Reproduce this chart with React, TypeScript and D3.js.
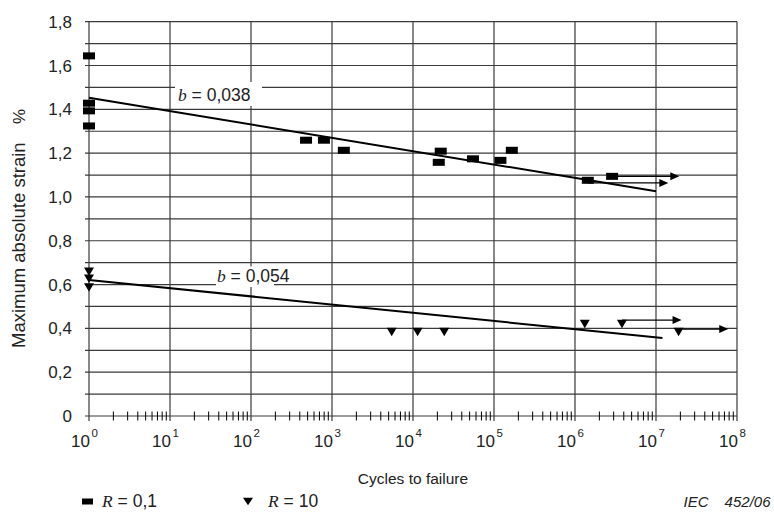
import React from "react";
import * as d3 from "d3";

// R = 0,1 (rectangles)
const r01Cycles = [1, 1, 1, 1, 478, 795, 1400, 20800, 22000, 55000, 120000, 166000, 1.44e6, 2.87e6];
const r01Strain = [1.644, 1.428, 1.393, 1.324, 1.259, 1.259, 1.213, 1.158, 1.209, 1.174, 1.167, 1.213, 1.076, 1.094];
// R = 10 (triangles)
const r10Cycles = [1, 1, 1, 5460, 11400, 24300, 1.32e6, 3.8e6, 1.9e7];
const r10Strain = [0.659, 0.626, 0.587, 0.384, 0.384, 0.384, 0.42, 0.42, 0.384];

// run-outs (arrows)
const r01RunStart = [1.44e6, 2.87e6];
const r01RunEnd = [1.42e7, 1.94e7];
const r01RunStrain = [1.064, 1.094];
const r10RunStart = [3.8e6, 1.9e7];
const r10RunEnd = [2.07e7, 7.8e7];
const r10RunStrain = [0.438, 0.397];

// fitted lines
const r01FitCycles = [1, 1e7];
const r01FitStrain = [1.453, 1.026];
const r10FitCycles = [1, 1.2e7];
const r10FitStrain = [0.621, 0.356];

const yTicks = [0, 0.2, 0.4, 0.6, 0.8, 1.0, 1.2, 1.4, 1.6, 1.8];
const yGrid = d3.range(0, 19).map((i) => i / 10);
const decades = [0, 1, 2, 3, 4, 5, 6, 7, 8];

const fmt = (v: number) => (v === 0 ? "0" : v.toFixed(1).replace(".", ","));

export default function App() {
  const x = d3.scaleLog().domain([1, 1e8]).range([89, 737]);
  const y = d3.scaleLinear().domain([0, 1.8]).range([416, 21.7]);
  const gridColor = "#3a3a3a";
  const sans = "'Liberation Sans', Arial, sans-serif";
  const serif = "'Liberation Serif', 'Times New Roman', serif";
  const line = d3
    .line<[number, number]>()
    .x((d) => x(d[0]))
    .y((d) => y(d[1]));

  const minor: number[] = [];
  for (let d = 0; d < 8; d++) for (let k = 2; k <= 9; k++) minor.push(k * Math.pow(10, d));

  const tri = (cx: number, cy: number, w = 10, h = 8.5) =>
    `M${cx - w / 2},${cy - h / 2}L${cx + w / 2},${cy - h / 2}L${cx},${cy + h / 2}Z`;

  const arrow = (x1: number, x2: number, yy: number, key: string) => (
    <g key={key}>
      <line x1={x1} x2={x2 - 7} y1={yy} y2={yy} stroke="#000" strokeWidth={1.2} />
      <path d={`M${x2},${yy}L${x2 - 9},${yy - 4}L${x2 - 9},${yy + 4}Z`} fill="#000" />
    </g>
  );

  return (
    <svg
      width={774}
      height={519}
      style={{ position: "absolute", left: 0, top: 0, background: "#fff" }}
      fontFamily={sans}
    >
      <rect x={0} y={0} width={774} height={519} fill="#fff" />
      {/* horizontal grid */}
      {yGrid.map((v) => (
        <line key={"h" + v} x1={85} x2={x(1e8)} y1={y(v)} y2={y(v)} stroke={gridColor} strokeWidth={1.2} />
      ))}
      {/* vertical grid */}
      {decades.map((d) => (
        <line
          key={"v" + d}
          x1={x(Math.pow(10, d))}
          x2={x(Math.pow(10, d))}
          y1={y(1.8)}
          y2={421}
          stroke={gridColor}
          strokeWidth={1.2}
        />
      ))}
      {/* minor ticks */}
      {minor.map((m) => (
        <line key={"m" + m} x1={x(m)} x2={x(m)} y1={411.5} y2={420.5} stroke="#000" strokeWidth={1} />
      ))}
      {/* y tick labels */}
      {yTicks.map((v) => (
        <text key={"yt" + v} x={72} y={y(v)} dy="0.36em" textAnchor="end" fontSize={17} fill="#222">
          {fmt(v)}
        </text>
      ))}
      {/* x tick labels */}
      {decades.map((d) => (
        <g key={"xt" + d} fill="#222">
          <text x={x(Math.pow(10, d)) + 1} y={447} textAnchor="end" fontSize={17}>
            10
          </text>
          <text x={x(Math.pow(10, d)) + 2.5} y={436.5} fontSize={11.5}>
            {d}
          </text>
        </g>
      ))}
      {/* axis titles */}
      <text x={413} y={484} textAnchor="middle" fontSize={15.5} fill="#222">
        Cycles to failure
      </text>
      <text transform="translate(25,348) rotate(-90)" fontSize={18.5} fill="#222">
        Maximum absolute strain
      </text>
      <text transform="translate(25,124) rotate(-90)" fontSize={17} fill="#222">
        %
      </text>

      {/* fit lines */}
      <path
        d={line(r01FitCycles.map((c, i) => [c, r01FitStrain[i]] as [number, number])) || ""}
        stroke="#000"
        strokeWidth={2}
        fill="none"
      />
      <path
        d={line(r10FitCycles.map((c, i) => [c, r10FitStrain[i]] as [number, number])) || ""}
        stroke="#000"
        strokeWidth={2}
        fill="none"
      />

      {/* annotations */}
      <rect x={175} y={82} width={87} height={24} fill="#fff" />
      <text x={178} y={101} fontSize={17.5} fill="#222">
        <tspan fontFamily={serif} fontStyle="italic">b</tspan>
        <tspan> = 0,038</tspan>
      </text>
      <rect x={216} y={266.5} width={58} height={20.5} fill="#fff" />
      <text x={217} y={282} fontSize={17.5} fill="#222">
        <tspan fontFamily={serif} fontStyle="italic">b</tspan>
        <tspan> = 0,054</tspan>
      </text>

      {/* run-out arrows */}
      {r01RunStart.map((s, i) => arrow(x(s), x(r01RunEnd[i]), y(r01RunStrain[i]), "ra" + i))}
      {r10RunStart.map((s, i) => arrow(x(s), x(r10RunEnd[i]), y(r10RunStrain[i]), "rb" + i))}

      {/* data */}
      {r01Cycles.map((c, i) => (
        <rect key={"p" + i} x={x(c) - 6} y={y(r01Strain[i]) - 3.5} width={12} height={7} fill="#000" />
      ))}
      {r10Cycles.map((c, i) => (
        <path key={"t" + i} d={tri(x(c), y(r10Strain[i]))} fill="#000" />
      ))}

      {/* legend */}
      <rect x={82} y={498.5} width={11} height={6} fill="#000" />
      <text x={102} y={507} fontSize={17.5} fill="#222">
        <tspan fontFamily={serif} fontStyle="italic">R</tspan>
        <tspan> = 0,1</tspan>
      </text>
      <path d={tri(248, 501.5, 10, 7.5)} fill="#000" />
      <text x={268} y={507} fontSize={17.5} fill="#222">
        <tspan fontFamily={serif} fontStyle="italic">R</tspan>
        <tspan> = 10</tspan>
      </text>
      <text x={708.5} y={507} textAnchor="end" fontSize={15} fontStyle="italic" fill="#222">
        IEC
      </text>
      <text x={770.5} y={507} textAnchor="end" fontSize={15} fontStyle="italic" fill="#222">
        452/06
      </text>
    </svg>
  );
}
